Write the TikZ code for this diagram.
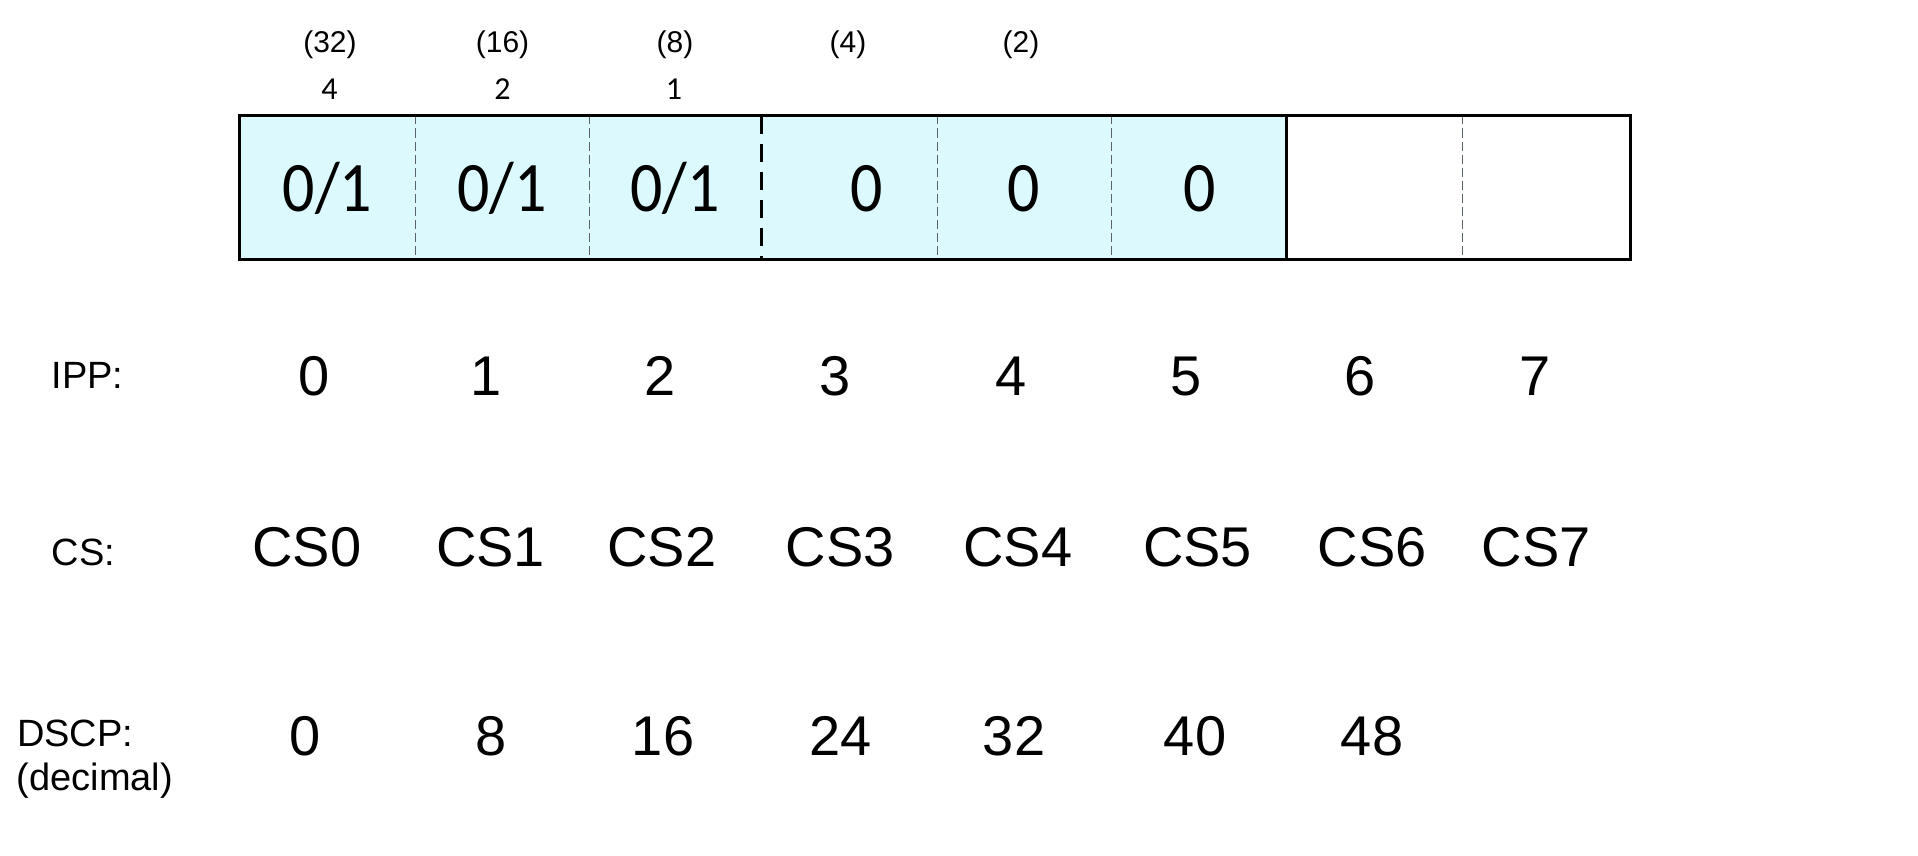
\documentclass[tikz,border=0pt]{standalone}
\usepackage{fontspec}
\setmainfont{Liberation Sans}
\newfontfamily\carl{Carlito}
\definecolor{cellfill}{RGB}{220,250,253}
\definecolor{divgray}{RGB}{90,100,105}
\newcommand{\narrowbit}[1]{\scalebox{0.9}[1]{#1}}
\begin{document}
\begin{tikzpicture}[x=1pt,y=-1pt,
  lab/.style={inner sep=0pt,anchor=base west,font=\fontsize{38}{45}\selectfont},
  big/.style={inner sep=0pt,anchor=base,font=\fontsize{56}{64}\selectfont},
  bit/.style={inner sep=0pt,anchor=base,font=\carl\fontsize{71}{75}\selectfont},
  wt/.style={inner sep=0pt,anchor=base,font=\fontsize{30}{34}\selectfont},
  wtc/.style={inner sep=0pt,anchor=base,font=\carl\fontsize{32}{36}\selectfont},
  thindiv/.style={draw=divgray,line width=1pt,dash pattern=on 9pt off 4pt},
  thickdiv/.style={draw=black,line width=3pt,dash pattern=on 18pt off 10pt},
  frame/.style={draw=black,line width=3.2pt}]
\fill[white] (0,0) rectangle (1918,856);
\useasboundingbox (0,0) rectangle (1918,856);
% cells
\fill[cellfill] (239.5,115.5) rectangle (1286.5,259.5);
\draw[thindiv] (415.5,115.5) -- (415.5,259.5);
\draw[thindiv] (589.5,115.5) -- (589.5,259.5);
\draw[thindiv] (937,115.5) -- (937,259.5);
\draw[thindiv] (1111,115.5) -- (1111,259.5);
\draw[thindiv] (1462.5,115.5) -- (1462.5,259.5);
\draw[thickdiv] (761.5,115.5) -- (761.5,259.5);
\draw[frame] (1286.5,115.5) -- (1286.5,259.5);
\draw[frame] (239.5,115.5) rectangle (1630.5,259.5);
% weights
\node[wt] (w32) at (330,53) {(32)};
\node[wt] (w16) at (502.5,53) {(16)};
\node[wt] (w8) at (675,53) {(8)};
\node[wt] (w4) at (848,53) {(4)};
\node[wt] (w2) at (1021,53) {(2)};
\node[wtc] (p4) at (329.5,100) {4};
\node[wtc] (p2) at (502.5,100) {2};
\node[wtc] (p1) at (674,100) {1};
% bits
\node[bit] (b0) at (327.5,211) {\narrowbit{0/1}};
\node[bit] (b1) at (502,211) {\narrowbit{0/1}};
\node[bit] (b2) at (675,211) {\narrowbit{0/1}};
\node[bit] (b3) at (866.5,211) {\narrowbit{0}};
\node[bit] (b4) at (1023.7,211) {\narrowbit{0}};
\node[bit] (b5) at (1200,211) {\narrowbit{0}};
% IPP
\node[lab] (ippl) at (51.5,388.3) {IPP:};
\node[big] (i0) at (314,395) {0};
\node[big] (i1) at (485.6,395) {1};
\node[big] (i2) at (660.5,395) {2};
\node[big] (i3) at (835.5,395) {3};
\node[big] (i4) at (1011,395) {4};
\node[big] (i5) at (1186,395) {5};
\node[big] (i6) at (1360,395) {6};
\node[big] (i7) at (1535,395) {7};
% CS
\node[lab] (csl) at (51.5,565) {CS:};
\node[big] (c0) at (306.7,566.7) {CS0};
\node[big] (c1) at (490.5,566.7) {CS1};
\node[big] (c2) at (661.8,566.7) {CS2};
\node[big] (c3) at (840.3,566.7) {CS3};
\node[big] (c4) at (1017.7,566.7) {CS4};
\node[big] (c5) at (1197.5,566.7) {CS5};
\node[big] (c6) at (1372.4,566.7) {CS6};
\node[big] (c7) at (1536.3,566.7) {CS7};
% DSCP
\node[lab] (dl1) at (17,746.7) {DSCP:};
\node[lab] (dl2) at (16.5,790) {(decimal)};
\node[big] (d0) at (305.5,755) {0};
\node[big] (d8) at (491,755) {8};
\node[big] (d16) at (663,755) {16};
\node[big] (d24) at (840.3,755) {24};
\node[big] (d32) at (1014,755) {32};
\node[big] (d40) at (1195,755) {40};
\node[big] (d48) at (1372,755) {48};
\end{tikzpicture}
\end{document}
